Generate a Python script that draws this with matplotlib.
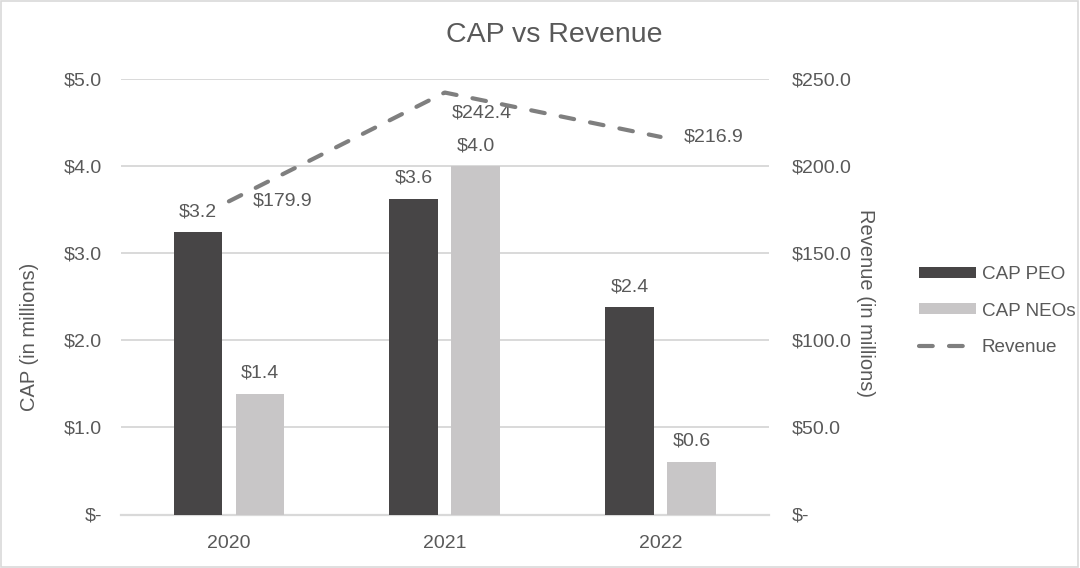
import matplotlib
matplotlib.use("Agg")
import matplotlib.pyplot as plt
from matplotlib.patches import Rectangle, Patch
from matplotlib.lines import Line2D
import numpy as np

years = ["2020", "2021", "2022"]
cap_peo = [3.24, 3.63, 2.38]
cap_neo = [1.39, 4.00, 0.60]
revenue = [179.9, 242.4, 216.9]
left_ticks = [0.0, 1.0, 2.0, 3.0, 4.0, 5.0]
right_ticks = [0.0, 50.0, 100.0, 150.0, 200.0, 250.0]

TXT = "#595959"
PEO_C = "#474546"
NEO_C = "#c8c6c7"
LINE_C = "#7f7f7f"
GRID_C = "#d9d9d9"

plt.rcParams["font.family"] = ["Liberation Sans", "DejaVu Sans"]

fig = plt.figure(figsize=(10.8, 5.68), dpi=100)
ax = fig.add_axes([121 / 1080, (568 - 514.5) / 568, (768.5 - 121) / 1080, (514.5 - 79.3) / 568])
ax2 = ax.twinx()

x = np.arange(len(years))
w = 0.225
off = 0.1435
b1 = ax.bar(x - off, cap_peo, w, color=PEO_C, zorder=3)
b2 = ax.bar(x + off, cap_neo, w, color=NEO_C, zorder=3)

ax.set_xlim(-0.5, 2.5)
ax.set_ylim(0, 5)
ax.set_yticks(left_ticks)
ax.set_yticklabels(["$-" if v == 0 else f"${v:.1f}" for v in left_ticks])
ax.set_xticks(x)
ax.set_xticklabels(years)
ax.yaxis.grid(True, color=GRID_C, linewidth=1.4, zorder=0)
ax.set_axisbelow(True)
for s in ["top", "right", "left"]:
    ax.spines[s].set_visible(False)
ax.spines["bottom"].set_color(GRID_C)
ax.spines["bottom"].set_linewidth(1.6)
ax.tick_params(axis="both", length=0, labelsize=14, colors=TXT)
ax.tick_params(axis="y", pad=13.5)
ax.tick_params(axis="x", pad=15)

for bars, vals in ((b1, cap_peo), (b2, cap_neo)):
    for r, v in zip(bars, vals):
        ax.annotate(f"${v:.1f}", (r.get_x() + r.get_width() / 2, v),
                    xytext=(0, 15), textcoords="offset points",
                    ha="center", va="center", fontsize=14, color=TXT)

ax2.plot(x, revenue, color=LINE_C, linewidth=3, dashes=(3.3, 3.9),
         dash_capstyle="round", zorder=4)
ax2.set_ylim(0, 250)
ax2.set_yticks(right_ticks)
ax2.set_yticklabels(["$-" if v == 0 else f"${v:.1f}" for v in right_ticks])
for s in ["top", "right", "left", "bottom"]:
    ax2.spines[s].set_visible(False)
ax2.tick_params(axis="y", length=0, labelsize=14, colors=TXT, pad=17)

label_offsets = [(17, 0), (5, -15), (17, 0)]
for xi, v, o in zip(x, revenue, label_offsets):
    ax2.annotate(f"${v:.1f}", (xi, v), xytext=o, textcoords="offset points",
                 ha="left", va="center", fontsize=14, color=TXT)

fig.text(554 / 1080, 1 - 35 / 568, "CAP vs Revenue",
         ha="center", va="center", fontsize=20.5, color=TXT)
fig.text(30 / 1080, 1 - 336.7 / 568, "CAP (in millions)", rotation=90,
         ha="center", va="center", fontsize=14.5, color=TXT)
fig.text(865 / 1080, 1 - 303 / 568, "Revenue (in millions)", rotation=270,
         ha="center", va="center", fontsize=14.5, color=TXT)

handles = [Patch(facecolor=PEO_C, edgecolor="none"),
           Patch(facecolor=NEO_C, edgecolor="none"),
           Line2D([0], [0], color=LINE_C, linewidth=3, dashes=(3.3, 3.9),
                  dash_capstyle="round")]
leg = fig.legend(handles, ["CAP PEO", "CAP NEOs", "Revenue"],
                 loc="center left", bbox_to_anchor=(919 / 1080, 1 - 311 / 568),
                 frameon=False, fontsize=13.6, labelcolor=TXT,
                 handlelength=3.0, handleheight=0.5, handletextpad=0.32,
                 labelspacing=1.02, borderpad=0, borderaxespad=0)

fig.patches.append(Rectangle((0.0005, 0.001), 0.998, 0.997, transform=fig.transFigure,
                             fill=False, edgecolor=GRID_C, linewidth=1.2))

fig.savefig("out.png", dpi=100)
